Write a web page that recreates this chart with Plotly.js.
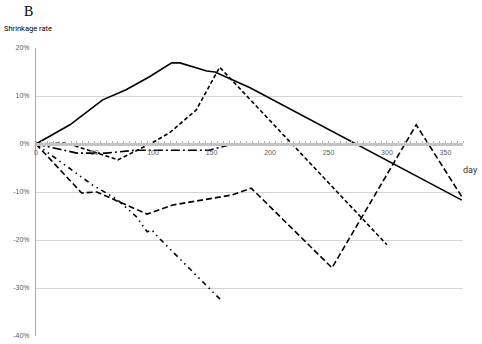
<!DOCTYPE html>
<html>
<head>
<meta charset="utf-8">
<script src="https://cdn.plot.ly/plotly-3.0.1.min.js"></script>
<style>html,body{margin:0;padding:0;background:#fff;}#chart{width:482px;height:344px;}</style>
</head>
<body>
<div id="chart"></div>
<script>
// Series data (day, shrinkage rate in %)
var solidDays = [0, 12, 29, 57, 77, 97, 116, 123, 146, 153, 168, 183, 364];
var solidRate = [0, 1.7, 4.0, 9.2, 11.3, 14.0, 16.9, 16.9, 15.2, 15.0, 13.3, 11.7, -11.7];

var shortDashDays = [0, 26, 70, 99, 114, 137, 157, 300];
var shortDashRate = [0, 0.2, -3.3, 0.2, 2.3, 7.1, 16.0, -21.0];

var longDashDays = [0, 39, 52, 95, 117, 140, 168, 184, 253, 325, 364];
var longDashRate = [0, -10.2, -10.0, -14.6, -12.7, -11.7, -10.6, -9.2, -25.8, 4.0, -11.0];

var dashDotDays = [0, 35, 60, 85, 148, 165];
var dashDotRate = [0, -1.9, -1.9, -1.3, -1.3, -0.2];

var dashDotDotDays = [0, 20, 48, 69, 86, 95, 99, 104, 158];
var dashDotDotRate = [0, -3.5, -8.5, -11.5, -15.2, -18.3, -17.9, -19.3, -32.5];

var xTickVals = [0, 50, 100, 150, 200, 250, 300, 350];
var yTickVals = [20, 10, 0, -10, -20, -30, -40];
var yTickText = ['20%', '10%', '0%', '-10%', '-20%', '-30%', '-40%'];

function tr(x, y, dash) {
  return {x: x, y: y, type: 'scatter', mode: 'lines',
    line: {color: '#000', width: 1.6, dash: dash}, hoverinfo: 'skip', showlegend: false};
}
var data = [
  tr(solidDays, solidRate, 'solid'),
  tr(shortDashDays, shortDashRate, '4px,2.5px'),
  tr(longDashDays, longDashRate, '6px,3px'),
  tr(dashDotDays, dashDotRate, '9px,3px,2px,3px'),
  tr(dashDotDotDays, dashDotDotRate, '5px,4px,1.5px,4px,1.5px,4px')
];

var tickFont = {family: 'Liberation Sans, Arial, sans-serif', size: 7, color: '#595959'};
var layout = {
  width: 482, height: 344,
  margin: {l: 36, r: 19, t: 48, b: 8, pad: 0},
  paper_bgcolor: '#fff', plot_bgcolor: '#fff',
  showlegend: false,
  xaxis: {
    range: [0, 365], tickvals: xTickVals, ticktext: xTickVals.map(String),
    anchor: 'free', position: 2/3,
    showgrid: false, zeroline: false,
    showline: true, linecolor: '#c4c4c4', linewidth: 2.5,
    ticks: '', tickfont: tickFont, ticklabelstandoff: 1,
    minor: {dtick: 5, ticks: 'inside', ticklen: 2, tickcolor: '#b0b0b0', tickwidth: 1, showgrid: false}
  },
  yaxis: {
    range: [-40, 20], tickvals: yTickVals, ticktext: yTickText,
    showgrid: true, gridcolor: '#d4d4d4', gridwidth: 1,
    zeroline: false, showline: true, linecolor: '#a6a6a6', linewidth: 1,
    ticks: '', tickfont: tickFont, ticklabelstandoff: 4
  },
  annotations: [
    {text: 'B', xref: 'paper', yref: 'paper', x: -0.0187, y: 1.128, xanchor: 'center', yanchor: 'middle',
     showarrow: false, font: {family: 'Liberation Serif, DejaVu Serif, serif', size: 14, color: '#000'}},
    {text: 'Shrinkage rate', xref: 'paper', yref: 'paper', x: -0.08, y: 1.069, xanchor: 'left', yanchor: 'middle',
     showarrow: false, font: {family: 'Roboto, sans-serif', size: 7.5, color: '#000'}},
    {text: 'day', xref: 'paper', yref: 'paper', x: 1.0187, y: 0.576, xanchor: 'center', yanchor: 'middle',
     showarrow: false, font: {family: 'Roboto, sans-serif', size: 9, color: '#333'}}
  ]
};
Plotly.newPlot('chart', data, layout, {displayModeBar: false, staticPlot: true});
</script>
</body>
</html>
